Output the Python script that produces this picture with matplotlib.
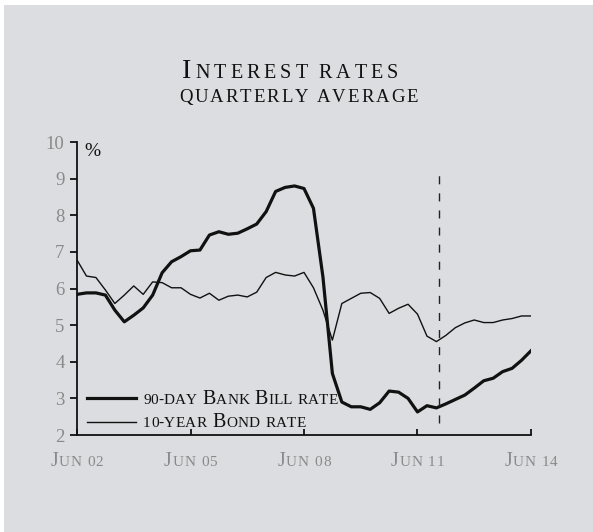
import numpy as np
import matplotlib
matplotlib.use("Agg")
import matplotlib.pyplot as plt
from matplotlib.patches import Rectangle

# Quarterly averages, Jun 2002 .. Jun 2014 (49 quarters), per cent
bank_bill = [5.84, 5.88, 5.88, 5.82, 5.41, 5.09, 5.27, 5.47, 5.82, 6.43,
             6.73, 6.87, 7.03, 7.05, 7.46, 7.55, 7.48, 7.51, 7.63, 7.76,
             8.10, 8.65, 8.76, 8.80, 8.73, 8.19, 6.32, 3.68, 2.90, 2.77,
             2.77, 2.70, 2.88, 3.20, 3.17, 3.00, 2.63, 2.80, 2.74, 2.85,
             2.97, 3.09, 3.28, 3.48, 3.55, 3.73, 3.82, 4.04, 4.30]
bond_10y = [6.78, 6.34, 6.30, 5.96, 5.59, 5.82, 6.07, 5.84, 6.18, 6.16,
            6.02, 6.02, 5.84, 5.74, 5.87, 5.68, 5.79, 5.82, 5.77, 5.90,
            6.30, 6.44, 6.37, 6.34, 6.44, 6.02, 5.41, 4.59, 5.59, 5.73,
            5.87, 5.89, 5.73, 5.32, 5.46, 5.57, 5.30, 4.70, 4.55, 4.72,
            4.93, 5.06, 5.14, 5.07, 5.07, 5.14, 5.18, 5.25, 5.25]
xtick_pos = [0, 12, 24, 36, 48]
xtick_labels = ["Jun 02", "Jun 05", "Jun 08", "Jun 11", "Jun 14"]
ytick_vals = [2, 3, 4, 5, 6, 7, 8, 9, 10]
divider_q = 38.25          # quarter where the dashed divider sits
divider_span = (2.33, 9.15)
series_labels = ["90-day Bank Bill rate", "10-year Bond rate"]

W, H = 593, 532
BG = "#dcdde0"
GREY = "#8a8a8a"
INK = "#111111"
SERIF = "Liberation Serif"

fig = plt.figure(figsize=(W / 100, H / 100), dpi=100, facecolor="white")
fig.patches.append(Rectangle((4 / W, 0), 1, 1 - 5 / H, transform=fig.transFigure,
                             facecolor=BG, edgecolor="none", zorder=-10))

ax = fig.add_axes([77 / W, 97 / H, 454 / W, 293 / H])
ax.set_facecolor("none")
x = np.arange(len(bank_bill))
ax.plot(x, bond_10y, color=INK, lw=1.0, solid_joinstyle="round")
ax.plot(x, bank_bill, color=INK, lw=2.3, solid_joinstyle="round")
ax.plot([divider_q, divider_q], divider_span, color="#222222", lw=1.0,
        ls=(0, (5.8, 6.5)))

ax.set_xlim(0, 48)
ax.set_ylim(2, 10)
for s in ("top", "right"):
    ax.spines[s].set_visible(False)
for s in ("left", "bottom"):
    ax.spines[s].set_linewidth(1.3)
    ax.spines[s].set_color(INK)
ax.set_yticks(ytick_vals)
ax.set_yticklabels([str(v) for v in ytick_vals], fontsize=13.5, color=GREY,
                   family=SERIF)
ax.tick_params(axis="y", direction="out", length=5, width=1.3, pad=4,
               color=INK)
ax.set_xticks(xtick_pos)
ax.set_xticklabels([])
ax.tick_params(axis="x", direction="in", length=4, width=1.3, color=INK)

ax.text(0.75, 9.73, "%", fontsize=14, family=SERIF, color=INK,
        va="center", ha="left")

# legend keys
ax.plot([0.022, 0.130], [0.125, 0.125], transform=ax.transAxes, lw=2.3,
        color=INK, clip_on=False)
ax.plot([0.022, 0.130], [0.045, 0.045], transform=ax.transAxes, lw=1.0,
        color=INK, clip_on=False)

renderer = fig.canvas.get_renderer()


def small_caps(x_px, y_px, text, big, small, ha="left", color=INK, width=None):
    """Draw text in small caps, one glyph per Text so the letters can be
    spaced out to a given overall width. (x_px, y_px) is the baseline
    anchor in pixels from the top-left corner of the figure."""
    glyphs = []   # (Text, advance, starts_new_word)
    new_word = False
    for ch in text:
        if ch == " ":
            new_word = True
            continue
        if ch.isupper():
            piece, size = ch, big
        elif ch.isalpha():
            piece, size = ch.upper(), small
        else:
            piece, size = ch, small
        t = fig.text(0, 0, piece, fontsize=size, family=SERIF, color=color,
                     va="baseline", ha="left")
        adv = t.get_window_extent(renderer).width
        glyphs.append((t, adv, new_word))
        new_word = False
    space = small * 0.34 * 100 / 72
    n_words = 1 + sum(1 for g in glyphs if g[2])
    natural = sum(a for _, a, _ in glyphs) + space * (n_words - 1)
    track = 0.0
    if width is not None and len(glyphs) > 1:
        track = (width - natural) / (len(glyphs) - 1)
    total = natural + track * (len(glyphs) - 1)
    cur = x_px - (total / 2 if ha == "center" else 0)
    for i, (t, adv, nw) in enumerate(glyphs):
        if nw:
            cur += space
        t.set_position((cur / W, 1 - y_px / H))
        cur += adv + track


# titles
small_caps(290, 78.3, "Interest rates", 20, 14.5, ha="center", width=216)
small_caps(298.5, 101.7, "quarterly average", 13.5, 13.5, ha="center",
           width=239)

# x tick labels
x0, x1 = 77, 531
for q, lab in zip(xtick_pos, xtick_labels):
    small_caps(x0 + (x1 - x0) * q / 48, 465.7, lab, 14.5, 11, ha="center",
               color=GREY, width=53)

# legend labels
small_caps(143, 404, series_labels[0], 14.5, 11, width=195)
small_caps(143, 426.7, series_labels[1], 14.5, 11, width=163)

fig.savefig("out.png", dpi=100, facecolor=fig.get_facecolor())
